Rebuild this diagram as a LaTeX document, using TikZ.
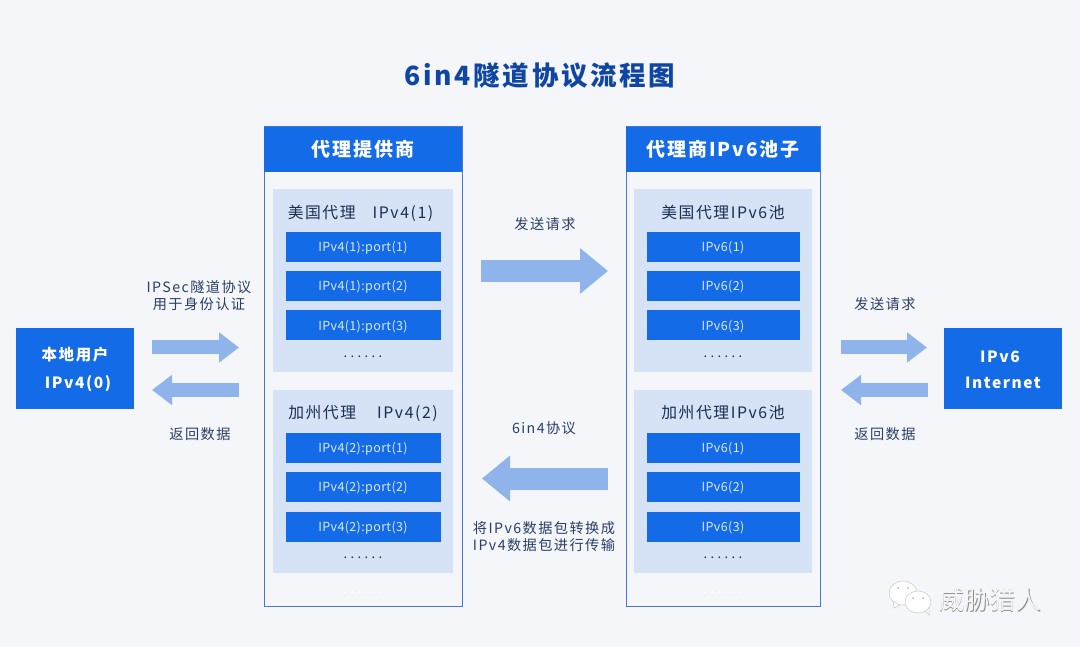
\documentclass[tikz,border=0pt]{standalone}
\usepackage{fontspec}
\setmainfont{Noto Sans CJK SC}[LetterSpace=10]
\newfontfamily\markfont{Noto Sans CJK SC}
\usetikzlibrary{arrows.meta}
\definecolor{pagebg}{HTML}{F4F6F9}
\definecolor{mainblue}{HTML}{146BE8}
\definecolor{edgeblue}{HTML}{4478D2}
\definecolor{subbg}{HTML}{D6E2F5}
\definecolor{flowblue}{HTML}{8EB4EB}
\definecolor{titleblue}{HTML}{0F45A5}
\definecolor{labelink}{HTML}{2A3F66}
\definecolor{subink}{HTML}{1C2E52}
\definecolor{portink}{HTML}{DCE9FF}
\tikzset{
  txt/.style={inner sep=0pt, outer sep=0pt, text height=#1*0.88pt, text depth=#1*0.12pt},
  panel/.style={draw=edgeblue, line width=1pt, fill=pagebg, minimum width=#1, minimum height=479pt, inner sep=0pt},
  panelhead/.style={txt=19, fill=mainblue, text=white, font=\fontsize{19}{22}\bfseries, minimum width=#1, minimum height=45pt},
  subpanel/.style={fill=subbg, minimum width=#1, minimum height=183pt, inner sep=0pt},
  endbox/.style={fill=mainblue, minimum width=118pt, minimum height=81pt, inner sep=0pt},
  endtext/.style={txt=15.5, text=white, font=\fontsize{15.5}{18}\bfseries},
  portbox/.style={txt=12.5, fill=mainblue, text=portink, font=\fontsize{12.5}{14}\selectfont\addfontfeature{LetterSpace=3}, minimum width=#1, minimum height=30pt},
  subtitle/.style={txt=15.8, text=subink, font=\fontsize{15.8}{18}\selectfont},
  flowlabel/.style={txt=14.2, text=labelink, font=\fontsize{14.2}{17}\selectfont},
  dots/.style={txt=13, text=subink, font=\fontsize{13}{15}\selectfont\addfontfeature{LetterSpace=26}},
  fatflow/.style={draw=flowblue, line width=22pt, -{Triangle[length=28pt,width=44pt,color=flowblue]}},
  slimflow/.style={draw=flowblue, line width=14pt, -{Triangle[length=20pt,width=29pt,color=flowblue]}},
  bubble/.style={fill=white, draw=black!22, line width=0.5pt},
}
\begin{document}
\begin{tikzpicture}[x=1pt, y=-1pt]

\fill[pagebg] (0,0) rectangle (1080,647);
\useasboundingbox (0,0) rectangle (1080,647);

\node[txt=26.5, text=titleblue, font=\fontsize{26.5}{30}\bfseries] (title) at (540,75) {6in4隧道协议流程图};

\node[panel=198pt] (provider) at (363,366.5) {};
\node[panelhead=198pt] (providerhead) at (363,149.5) {代理提供商};
\node[subpanel=180pt] (usprovider) at (363,280.5) {};
\node[subpanel=180pt] (caprovider) at (363,481.5) {};

\node[subtitle] (ustitle) at (360.5,212) {美国代理\hspace{17pt}IPv4(1)};
\node[portbox=155pt] (usport1) at (363,247) {IPv4(1):port(1)};
\node[portbox=155pt] (usport2) at (363,286) {IPv4(1):port(2)};
\node[portbox=155pt] (usport3) at (363,325.5) {IPv4(1):port(3)};
\node[dots] (usdots) at (363,353) {......};

\node[subtitle] (catitle) at (363,412) {加州代理\hspace{21pt}IPv4(2)};
\node[portbox=155pt] (caport1) at (363,448) {IPv4(2):port(1)};
\node[portbox=155pt] (caport2) at (363,487) {IPv4(2):port(2)};
\node[portbox=155pt] (caport3) at (363,526.5) {IPv4(2):port(3)};
\node[dots] (cadots) at (363,553.5) {......};
\node[dots, text=white] (providerdots) at (363,589) {......};

\node[panel=194pt] (pool) at (723,366.5) {};
\node[panelhead=194pt] (poolhead) at (723,149.5) {代理商IPv6池子};
\node[subpanel=178pt] (uspool) at (723,280.5) {};
\node[subpanel=178pt] (capool) at (723,481.5) {};

\node[subtitle] (uspooltitle) at (723,212) {美国代理IPv6池};
\node[portbox=153pt] (uspool1) at (723,247) {IPv6(1)};
\node[portbox=153pt] (uspool2) at (723,286) {IPv6(2)};
\node[portbox=153pt] (uspool3) at (723,325.5) {IPv6(3)};
\node[dots] (uspooldots) at (723,353) {......};

\node[subtitle] (capooltitle) at (723,412) {加州代理IPv6池};
\node[portbox=153pt] (capool1) at (723,448) {IPv6(1)};
\node[portbox=153pt] (capool2) at (723,487) {IPv6(2)};
\node[portbox=153pt] (capool3) at (723,526.5) {IPv6(3)};
\node[dots] (capooldots) at (723,553.5) {......};
\node[dots, text=white] (pooldots) at (723,589) {......};

\node[endbox] (user) at (75,368.5) {};
\node[endtext] (username) at (75,355) {本地用户};
\node[endtext] (userip) at (78,382.5) {IPv4(0)};

\node[endbox] (internet) at (1003,368.5) {};
\node[endtext] (netip) at (1000,356.5) {IPv6};
\node[endtext] (netname) at (1003,382.5) {Internet};

\coordinate (userouta) at (152,347.5);
\coordinate (userinb) at (239,347.5);
\coordinate (userbacka) at (239,390);
\coordinate (userbackb) at (152,390);
\draw[slimflow] (userouta) -- (userinb);
\draw[slimflow] (userbacka) -- (userbackb);

\coordinate (midsenda) at (481,271);
\coordinate (midsendb) at (608,271);
\coordinate (midbacka) at (608,478.5);
\coordinate (midbackb) at (482,478.5);
\draw[fatflow] (midsenda) -- (midsendb);
\draw[fatflow] (midbacka) -- (midbackb);

\coordinate (netsenda) at (841,347.5);
\coordinate (netsendb) at (927,347.5);
\coordinate (netbacka) at (928,390);
\coordinate (netbackb) at (841,390);
\draw[slimflow] (netsenda) -- (netsendb);
\draw[slimflow] (netbacka) -- (netbackb);

\node[flowlabel] (authone) at (199,287) {IPSec隧道协议};
\node[flowlabel] (authtwo) at (199,304) {用于身份认证};
\node[flowlabel] (userback) at (200,434) {返回数据};
\node[flowlabel] (midsend) at (545,224) {发送请求};
\node[flowlabel] (midproto) at (544,428) {6in4协议};
\node[flowlabel] (convone) at (544,528) {将IPv6数据包转换成};
\node[flowlabel] (convtwo) at (544,545) {IPv4数据包进行传输};
\node[flowlabel] (netsend) at (885,304) {发送请求};
\node[flowlabel] (netback) at (885,434) {返回数据};

\draw[bubble] (893,600) -- (894,608) -- (902,604);
\draw[bubble] (903,593) ellipse [x radius=14pt, y radius=12pt];
\fill[black!30] (898,588) circle (1pt) (908,588) circle (1pt);
\draw[bubble] (925,610) -- (929,615) -- (929,605);
\draw[bubble] (918,602) ellipse [x radius=13pt, y radius=11pt];
\fill[black!30] (913,598) circle (1pt) (923,598) circle (1pt);

\node[txt=25.5, text=black!45, font=\markfont\fontsize{25.5}{30}\selectfont] (markshade) at (990.6,600.5) {威胁猎人};
\node[txt=25.5, text=white!96!black, font=\markfont\fontsize{25.5}{30}\selectfont] (mark) at (990,600) {威胁猎人};

\end{tikzpicture}
\end{document}
